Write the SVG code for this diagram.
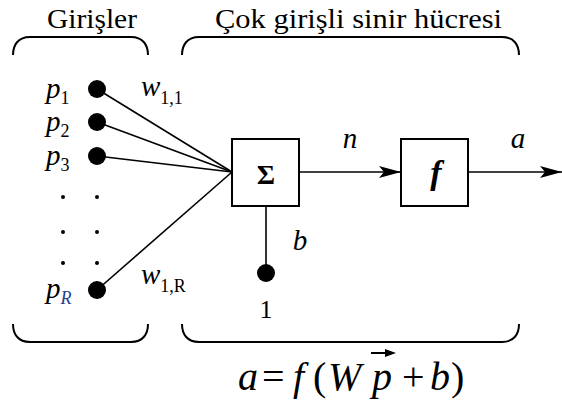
<svg xmlns="http://www.w3.org/2000/svg" width="562" height="403" viewBox="0 0 562 403" font-family="Liberation Serif, Times New Roman, serif">
<defs>
<style>
.it{font-style:italic}
.sub{font-size:18px;font-style:normal}
.ln{stroke:#000;stroke-width:1.6;fill:none}
.box{stroke:#000;stroke-width:2;fill:#fff}
.br{stroke:#000;stroke-width:2;fill:none}
</style>
<marker id="arr" viewBox="0 0 22 12" refX="22" refY="6" markerWidth="22" markerHeight="12" markerUnits="userSpaceOnUse" orient="auto">
<path d="M0,0 L22,6 L0,12 L5,6 Z" fill="#000"/>
</marker>
</defs>
<g id="labels-top">
<text x="92" y="28" font-size="28" text-anchor="middle" textLength="90" lengthAdjust="spacingAndGlyphs">Girişler</text>
<text x="358.5" y="28" font-size="28" text-anchor="middle" textLength="287" lengthAdjust="spacingAndGlyphs">Çok girişli sinir hücresi</text>
</g>
<g id="brackets">
<path class="br" d="M13,55 C13,45 18,37 30,37 L131,37 C143,37 148,45 148,55"/>
<path class="br" d="M182,55 C182,45 187,37 199,37 L502,37 C514,37 519,45 519,55"/>
<path class="br" d="M13,324 C13,334 18,342 30,342 L131,342 C143,342 148,334 148,324"/>
<path class="br" d="M182,324 C182,334 187,342 199,342 L502,342 C514,342 519,334 519,324"/>
</g>
<g id="connectors">
<line class="ln" x1="97" y1="89" x2="232" y2="172"/>
<line class="ln" x1="97" y1="122" x2="232" y2="172"/>
<line class="ln" x1="97" y1="156" x2="232" y2="172"/>
<line class="ln" x1="97" y1="290" x2="232" y2="172"/>
<line class="ln" x1="299" y1="172" x2="401" y2="172" marker-end="url(#arr)"/>
<line class="ln" x1="468" y1="172" x2="562" y2="172" marker-end="url(#arr)"/>
<line class="ln" x1="266" y1="206" x2="266" y2="273"/>
</g>
<g id="inputs">
<circle cx="97" cy="89" r="9"/>
<circle cx="97" cy="122" r="9"/>
<circle cx="97" cy="156" r="9"/>
<circle cx="97" cy="290" r="9"/>
<circle cx="63" cy="197" r="2"/><circle cx="97" cy="197" r="2"/>
<circle cx="63" cy="232" r="2"/><circle cx="97" cy="232" r="2"/>
<circle cx="63" cy="263" r="2"/><circle cx="97" cy="263" r="2"/>
<text x="46" y="98" font-size="29" class="it">p<tspan class="sub" dy="6">1</tspan></text>
<text x="46" y="131" font-size="29" class="it">p<tspan class="sub" dy="6">2</tspan></text>
<text x="46" y="165" font-size="29" class="it">p<tspan class="sub" dy="6">3</tspan></text>
<text x="46" y="298" font-size="29" class="it">p<tspan dy="6" font-size="18" font-style="italic" fill="#1f3f8f">R</tspan></text>
<text x="141" y="96" font-size="29" class="it">w<tspan class="sub" dy="8">1,1</tspan></text>
<text x="141" y="284" font-size="29" class="it">w<tspan class="sub" dy="8">1,R</tspan></text>
</g>
<g id="sum">
<rect class="box" x="232" y="139" width="67" height="67"/>
<text x="266" y="184" font-size="28" font-weight="bold" text-anchor="middle">Σ</text>
</g>
<g id="func">
<rect class="box" x="401" y="139" width="67" height="67"/>
<text x="436" y="184" font-size="34" font-weight="bold" font-style="italic" text-anchor="middle">f</text>
</g>
<g id="bias">
<circle cx="266" cy="273" r="9"/>
<text class="it" x="300" y="250" font-size="29" text-anchor="middle">b</text>
<text x="266" y="318" font-size="26" text-anchor="middle">1</text>
</g>
<g id="signals">
<text class="it" x="350" y="148" font-size="29" text-anchor="middle">n</text>
<text class="it" x="518" y="148" font-size="29" text-anchor="middle">a</text>
</g>
<g id="formula" font-size="40">
<text class="it" x="238" y="390">a</text>
<text x="262" y="390">=</text>
<text class="it" x="293" y="390">f</text>
<text x="313" y="390">(</text>
<text class="it" x="328" y="390">W</text>
<text class="it" x="372" y="390">p</text>
<text x="402" y="390">+</text>
<text class="it" x="430" y="390">b</text>
<text x="451" y="390">)</text>
<line x1="371" y1="353" x2="388" y2="353" stroke="#000" stroke-width="2"/>
<path d="M385,349 L396,353 L385,357 Z" fill="#000"/>
</g>
</svg>
